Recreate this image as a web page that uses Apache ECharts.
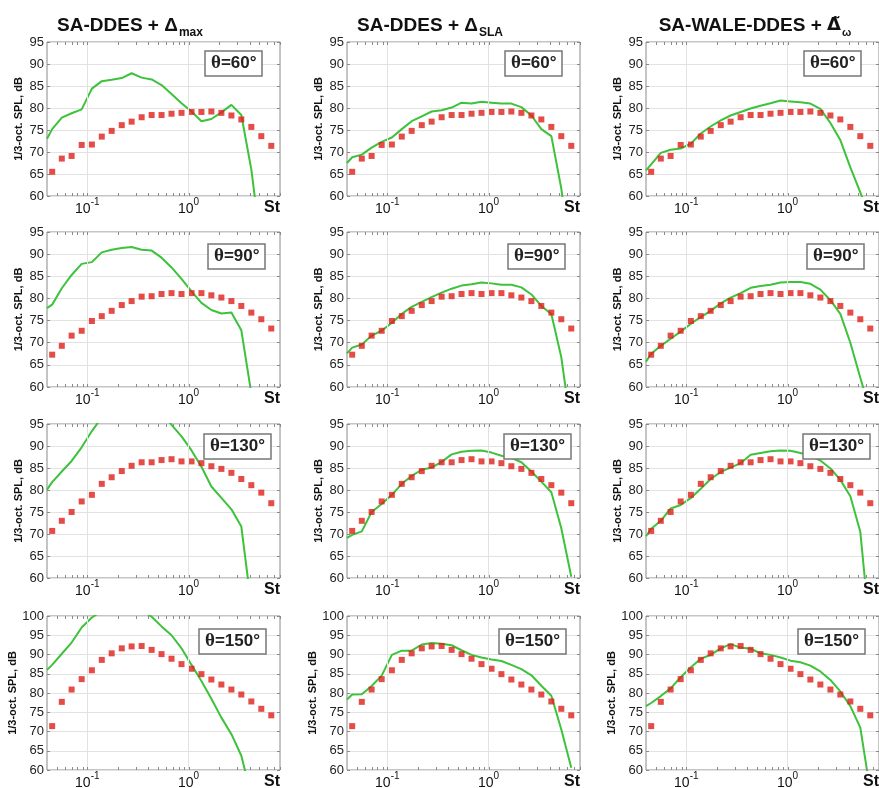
<!DOCTYPE html>
<html>
<head>
<meta charset="utf-8">
<script src="https://cdn.jsdelivr.net/npm/echarts@6/dist/echarts.min.js"></script>
<style>
  html, body { margin: 0; padding: 0; background: #fff; }
  #chart { width: 879px; height: 788px; }
</style>
</head>
<body>
<div id="chart"></div>
<script>
// 1/3-octave band centre Strouhal numbers of the measured spectra
const bandSt = [0.045, 0.056, 0.070, 0.088, 0.111, 0.139, 0.174, 0.219, 0.274, 0.344, 0.432, 0.541,
                0.679, 0.852, 1.07, 1.34, 1.68, 2.11, 2.65, 3.32, 4.17, 5.23, 6.56];
// Strouhal numbers of the computed spectra (starting at the left axis limit)
const simSt = [0.04, 0.045, 0.056, 0.070, 0.088, 0.111, 0.139, 0.174, 0.219, 0.274, 0.344, 0.432, 0.541,
               0.679, 0.852, 1.07, 1.34, 1.68, 2.11, 2.65, 3.32, 4.17, 5.23, 6.56];

// Measured 1/3-octave SPL, dB
const exp60  = [65.5, 68.5, 69.1, 71.6, 71.7, 73.5, 74.8, 76.1, 76.9, 77.9, 78.4, 78.4, 78.7, 78.9, 79.1, 79.1, 79.2, 78.9, 78.3, 77.4, 75.7, 73.6, 71.4];
const exp90  = [67.3, 69.3, 71.6, 72.7, 74.9, 76.0, 77.2, 78.5, 79.4, 80.4, 80.5, 81.0, 81.2, 81.0, 81.2, 81.2, 80.7, 80.2, 79.4, 78.3, 76.8, 75.3, 73.2];
const exp130 = [70.7, 73.0, 75.0, 77.4, 78.9, 81.4, 82.9, 84.3, 85.5, 86.3, 86.3, 86.8, 87.0, 86.5, 86.5, 86.1, 85.4, 84.8, 83.9, 82.5, 81.1, 79.4, 77.0];
const exp150 = [71.4, 77.7, 80.9, 83.6, 85.9, 88.6, 90.3, 91.6, 92.1, 92.2, 91.2, 90.1, 88.9, 87.5, 86.3, 84.9, 83.5, 82.2, 80.9, 79.6, 77.8, 75.9, 74.2];

// Computed spectra: SA-DDES + Δmax
const simMax60  = [73.0, 75.2, 77.8, 78.8, 79.7, 84.4, 86.1, 86.4, 86.8, 87.9, 86.9, 86.5, 85.2, 83.2, 81.1, 79.2, 77.0, 77.5, 79.0, 80.7, 78.4, 66.0, 48.0];
const simMax90  = [77.8, 78.6, 82.3, 85.3, 87.8, 88.2, 90.4, 91.0, 91.4, 91.6, 91.0, 90.8, 89.2, 87.0, 84.4, 81.6, 79.0, 77.4, 76.6, 76.8, 72.8, 58.5];
const simMax130 = [80.1, 81.8, 84.2, 86.6, 89.7, 93.4, 96.5, 98.5, 99.8, 100.5, 100.6, 99.8, 97.8, 94.8, 92.2, 89.0, 85.3, 80.8, 78.2, 75.6, 71.7, 53.6];
const simMax150 = [86.0, 87.3, 90.2, 93.1, 97.0, 99.6, 101.3, 102.5, 103.0, 102.6, 101.5, 99.8, 97.3, 95.0, 91.6, 87.3, 83.1, 78.5, 73.6, 69.3, 63.7, 53.3];
// Computed spectra: SA-DDES + ΔSLA
const simSla60  = [67.5, 68.8, 69.4, 71.0, 72.3, 73.3, 75.2, 77.0, 78.1, 79.2, 79.5, 80.1, 81.2, 81.0, 81.4, 81.2, 81.0, 81.0, 80.2, 78.3, 75.2, 73.6, 61.7, 44.5];
const simSla90  = [67.6, 68.9, 69.6, 71.6, 72.7, 74.5, 76.5, 78.1, 79.2, 80.3, 81.3, 82.2, 82.9, 83.2, 83.6, 83.4, 83.1, 83.1, 82.5, 80.9, 78.3, 76.5, 66.7, 50.6];
const simSla130 = [69.1, 69.8, 70.6, 75.0, 76.8, 78.9, 81.4, 83.2, 84.6, 85.1, 86.4, 88.1, 88.7, 88.9, 89.0, 88.5, 87.8, 87.3, 86.3, 84.2, 81.9, 79.5, 71.3, 60.3];
const simSla150 = [78.3, 79.6, 79.7, 81.8, 84.5, 89.9, 91.0, 91.0, 92.6, 93.0, 92.8, 92.4, 91.1, 89.9, 89.2, 88.7, 88.3, 87.3, 86.2, 84.6, 81.9, 79.3, 70.5, 60.6];
// Computed spectra: SA-WALE-DDES + Δ̃ω
const simWale60  = [65.8, 67.2, 69.8, 70.5, 70.8, 71.9, 74.2, 75.8, 77.2, 78.3, 79.1, 79.9, 80.5, 81.1, 81.7, 81.5, 81.3, 81.0, 79.8, 76.6, 72.7, 66.5, 60.8, 55.0];
const simWale90  = [65.7, 67.5, 69.3, 70.9, 72.5, 74.3, 75.8, 77.2, 78.9, 80.2, 81.2, 82.4, 82.8, 83.1, 83.6, 83.7, 83.7, 83.3, 82.0, 79.6, 76.5, 70.0, 62.1, 54.5];
const simWale130 = [69.5, 71.2, 73.0, 75.8, 76.6, 78.2, 80.3, 82.5, 84.1, 85.1, 86.1, 88.0, 88.4, 88.8, 89.0, 88.9, 88.4, 87.8, 86.7, 84.9, 82.3, 78.6, 70.5, 47.0];
const simWale150 = [76.6, 77.4, 79.2, 81.2, 84.1, 86.7, 88.9, 89.9, 91.6, 92.7, 91.8, 91.5, 90.3, 89.9, 89.2, 88.4, 88.0, 87.1, 85.6, 83.4, 80.4, 76.6, 71.0, 54.5];

// Panel rows (observer angle) and columns (model)
const angleLabels = ['60°', '90°', '130°', '150°'];
const yMaxByRow = [95, 95, 95, 100];
const expByRow = [exp60, exp90, exp130, exp150];
const simByCol = [
  [simMax60, simMax90, simMax130, simMax150],
  [simSla60, simSla90, simSla130, simSla150],
  [simWale60, simWale90, simWale130, simWale150]
];
// Log-axis tick positions (decades and the 2..9 subdivisions)
const logTickSt = [0.05, 0.06, 0.07, 0.08, 0.09, 0.1, 0.2, 0.3, 0.4, 0.5, 0.6, 0.7, 0.8, 0.9,
                   1, 2, 3, 4, 5, 6, 7, 8];
// Decades that carry a vertical grid line
const gridDecades = [0.1, 1];
const xTickLabels = { '-1': '{m|10}{s|-1}', '0': '{m|10}{s|0}' };
const yAxisTitle = '1/3-oct. SPL, dB';
const xAxisTitle = 'St';

// Layout
const colLeft = [47, 347, 646];
const plotW = 233;
const rowTop = [42, 232, 424, 616];
const plotH = [154, 155, 154, 154];
const boxDx = [158, 161, 157, 152];
const boxTop = [51, 244, 434, 629];
const colTitleX = [125, 425, 750];

const FONT = 'Liberation Sans, Arial, Helvetica, sans-serif';
const GREEN = '#3dc23b';
const RED = '#dd1f1a';
const FRAME = '#8a8a8a';
const GRIDLINE = '#e2e2e2';

const grids = [], xAxes = [], yAxes = [], series = [], titles = [];

const subStyle = { fontFamily: FONT, fontWeight: 'bold', fontSize: 12, color: '#111', padding: [14, 0, 0, 1] };
const headStyle = { fontFamily: FONT, fontWeight: 'bold', fontSize: 19, color: '#111' };
titles.push(
  { left: colTitleX[0], top: 8, textAlign: 'center',
    text: '{a|SA-DDES + Δ}{s|max}',
    textStyle: { rich: { a: headStyle, s: subStyle } } },
  { left: colTitleX[1], top: 8, textAlign: 'center',
    text: '{a|SA-DDES + Δ}{s|SLA}',
    textStyle: { rich: { a: headStyle, s: subStyle } } },
  { left: colTitleX[2], top: 8, textAlign: 'center',
    text: '{a|SA-WALE-DDES + }{d|Δ\u0303}{s|ω}',
    textStyle: { rich: {
      a: headStyle,
      d: { fontFamily: 'DejaVu Sans', fontWeight: 'bold', fontSize: 18, color: '#111' },
      s: Object.assign({}, subStyle, { fontSize: 11 }) } } }
);

for (let r = 0; r < 4; r++) {
  for (let c = 0; c < 3; c++) {
    const idx = grids.length;
    grids.push({
      left: colLeft[c], top: rowTop[r], width: plotW, height: plotH[r],
      containLabel: false, outerBoundsMode: 'none',
      show: true, backgroundColor: '#fff', borderColor: FRAME, borderWidth: 1
    });
    // St axis: decade labels only (ticks and grid lines are drawn separately)
    const xIdx = xAxes.length;
    xAxes.push({
      type: 'log', logBase: 10, gridIndex: idx, min: 0.04, max: 8, position: 'bottom',
      name: xAxisTitle, nameLocation: 'end', nameGap: 0,
      nameTextStyle: { fontFamily: FONT, fontWeight: 'bold', fontSize: 16, color: '#111',
                       align: 'right', verticalAlign: 'top', padding: [4, 0, 0, 0] },
      axisLine: { show: false },
      axisTick: { show: false },
      splitLine: { show: false },
      axisLabel: {
        margin: 1, showMinLabel: false, showMaxLabel: false,
        formatter: v => {
          const e = Math.round(Math.log10(v));
          if (Math.abs(Math.log10(v) - e) > 1e-6) return '';
          return xTickLabels[String(e)] || '';
        },
        rich: {
          m: { fontFamily: FONT, fontSize: 14, color: '#111', verticalAlign: 'bottom', padding: [5, 0, 0, 0] },
          s: { fontFamily: FONT, fontSize: 10, color: '#111', verticalAlign: 'top' }
        }
      }
    });
    const yIdx = yAxes.length;
    yAxes.push({
      type: 'value', gridIndex: idx, min: 60, max: yMaxByRow[r], interval: 5, position: 'left',
      name: yAxisTitle, nameLocation: 'middle', nameGap: 23,
      nameTextStyle: { fontFamily: FONT, fontWeight: 'bold', fontSize: 11, color: '#111' },
      axisLine: { show: false },
      axisTick: { show: true, inside: true, length: 3, lineStyle: { color: FRAME } },
      splitLine: { show: true, lineStyle: { color: GRIDLINE, width: 1 } },
      axisLabel: { fontFamily: FONT, fontSize: 13, color: '#222', margin: 3 }
    });
    yAxes.push({
      type: 'value', gridIndex: idx, min: 60, max: yMaxByRow[r], interval: 5, position: 'right',
      axisLine: { show: false },
      axisTick: { show: true, inside: true, length: 3, lineStyle: { color: FRAME } },
      splitLine: { show: false },
      axisLabel: { show: false }
    });
    // vertical grid lines at the decades
    series.push({
      type: 'line', xAxisIndex: xIdx, yAxisIndex: yIdx, data: [], z: 1, silent: true,
      markLine: {
        silent: true, symbol: 'none', animation: false,
        label: { show: false },
        lineStyle: { color: GRIDLINE, width: 1, type: 'solid' },
        emphasis: { disabled: true },
        data: gridDecades.map(d => ({ xAxis: d }))
      }
    });
    const sim = simByCol[c][r];
    series.push({
      type: 'line', xAxisIndex: xIdx, yAxisIndex: yIdx, clip: true,
      data: sim.map((v, i) => [simSt[i], v]),
      showSymbol: false, symbol: 'none', smooth: false,
      lineStyle: { color: GREEN, width: 2 }, z: 2, silent: true
    });
    series.push({
      type: 'scatter', xAxisIndex: xIdx, yAxisIndex: yIdx,
      data: expByRow[r].map((v, i) => [bandSt[i], v]),
      symbol: 'rect', symbolSize: 6,
      itemStyle: { color: RED }, z: 3, silent: true
    });
    titles.push({
      left: colLeft[c] + boxDx[r], top: boxTop[r],
      text: '{t|θ}{b|=' + angleLabels[r] + '}',
      backgroundColor: '#fff', borderColor: '#777', borderWidth: 1.5,
      padding: [3, 6, 3, 6],
      textStyle: { rich: {
        t: { fontFamily: 'Liberation Serif, Times New Roman, serif', fontSize: 19, color: '#222' },
        b: { fontFamily: FONT, fontWeight: 'bold', fontSize: 17, color: '#222' } } }
    });
  }
}

const chart = echarts.init(document.getElementById('chart'), null, { renderer: 'canvas' });
chart.setOption({
  animation: false,
  backgroundColor: '#fff',
  title: titles,
  grid: grids,
  xAxis: xAxes,
  yAxis: yAxes,
  series: series
});

// Inward tick marks on the top and bottom frame edges, placed through the St axis scale
const frameTicks = [];
for (let g = 0; g < grids.length; g++) {
  const top = rowTop[Math.floor(g / 3)];
  const bottom = top + plotH[Math.floor(g / 3)];
  logTickSt.forEach(st => {
    const x = Math.round(chart.convertToPixel({ xAxisIndex: g }, st)) + 0.5;
    frameTicks.push({ type: 'line', silent: true, z: 10,
      shape: { x1: x, y1: top, x2: x, y2: top + 3 }, style: { stroke: FRAME, lineWidth: 1 } });
    frameTicks.push({ type: 'line', silent: true, z: 10,
      shape: { x1: x, y1: bottom, x2: x, y2: bottom - 3 }, style: { stroke: FRAME, lineWidth: 1 } });
  });
}
chart.setOption({ graphic: frameTicks });
</script>
</body>
</html>
